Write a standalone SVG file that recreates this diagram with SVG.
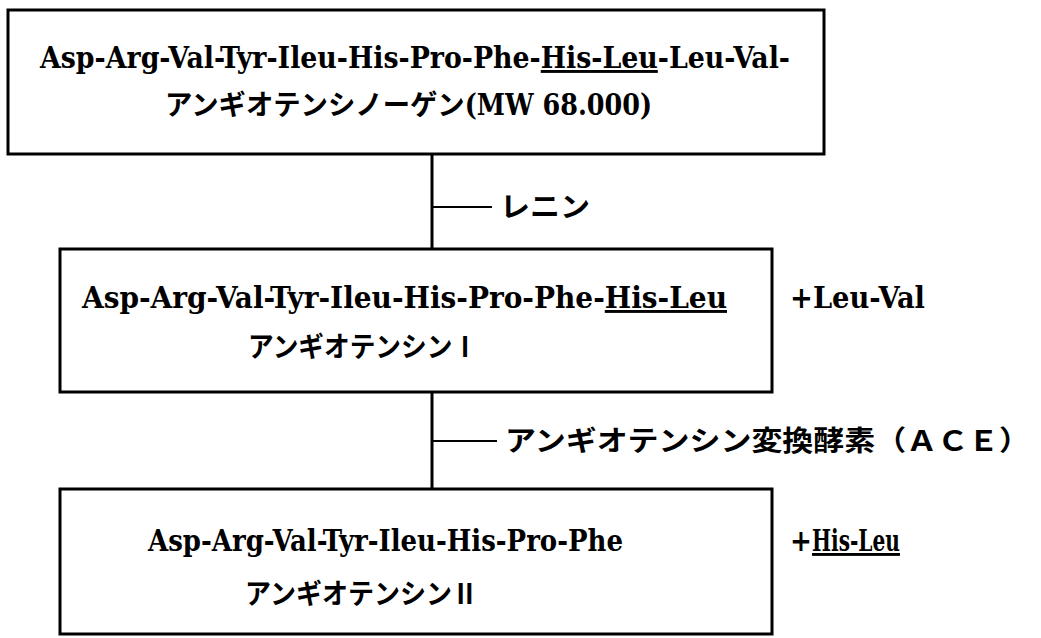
<svg xmlns="http://www.w3.org/2000/svg" width="1041" height="638" viewBox="0 0 1041 638">
<style>
.box{fill:none;stroke:#000;stroke-width:3}
.ln{stroke:#000;stroke-width:3;fill:none}
.br{stroke:#000;stroke-width:2;fill:none}
.lat{font-family:"DejaVu Serif","Liberation Serif",serif;font-stretch:condensed;font-weight:bold;font-size:29px;fill:#000}
.jp{font-family:"Noto Sans CJK JP","Noto Sans",sans-serif;font-weight:bold;font-size:28px;fill:#000}
.u{text-decoration:underline}
</style>
<rect width="1041" height="638" fill="#fff"/>
<g id="connectors">
<line class="ln" x1="432" y1="154" x2="432" y2="249"/>
<line class="br" x1="432" y1="207" x2="492" y2="207"/>
<line class="ln" x1="432" y1="392" x2="432" y2="489"/>
<line class="br" x1="432" y1="441" x2="497" y2="441"/>
</g>
<g id="angiotensinogen">
<rect class="box" x="8" y="10" width="816" height="144"/>
<text class="lat" x="40" y="68" textLength="750" lengthAdjust="spacingAndGlyphs">Asp-Arg-Val-Tyr-Ileu-His-Pro-Phe-<tspan class="u">His-Leu</tspan>-Leu-Val-</text>
<text class="jp" x="165" y="115" textLength="487" lengthAdjust="spacingAndGlyphs">アンギオテンシノーゲン<tspan class="lat">(MW 68.000)</tspan></text>
</g>
<g id="renin">
<text class="jp" x="500" y="217" textLength="90" lengthAdjust="spacingAndGlyphs">レニン</text>
</g>
<g id="angiotensin1">
<rect class="box" x="60" y="249" width="712" height="143"/>
<text class="lat" x="82" y="308" textLength="645" lengthAdjust="spacingAndGlyphs">Asp-Arg-Val-Tyr-Ileu-His-Pro-Phe-<tspan class="u">His-Leu</tspan></text>
<text class="jp" x="248" y="357" textLength="230" lengthAdjust="spacingAndGlyphs">アンギオテンシンⅠ</text>
</g>
<g id="leuval">
<text class="lat" x="790" y="308" textLength="135" lengthAdjust="spacingAndGlyphs">+Leu-Val</text>
</g>
<g id="ace">
<text class="jp" x="505" y="451" textLength="525" lengthAdjust="spacingAndGlyphs">アンギオテンシン変換酵素（ＡＣＥ）</text>
</g>
<g id="angiotensin2">
<rect class="box" x="60" y="489" width="712" height="145"/>
<text class="lat" x="148" y="551" textLength="475" lengthAdjust="spacingAndGlyphs">Asp-Arg-Val-Tyr-Ileu-His-Pro-Phe</text>
<text class="jp" x="245" y="604" textLength="233" lengthAdjust="spacingAndGlyphs">アンギオテンシンⅡ</text>
</g>
<g id="hisleu">
<text class="lat" x="790" y="551">+</text>
<text class="lat u" x="812" y="551" textLength="88" lengthAdjust="spacingAndGlyphs">His-Leu</text>
</g>
</svg>
